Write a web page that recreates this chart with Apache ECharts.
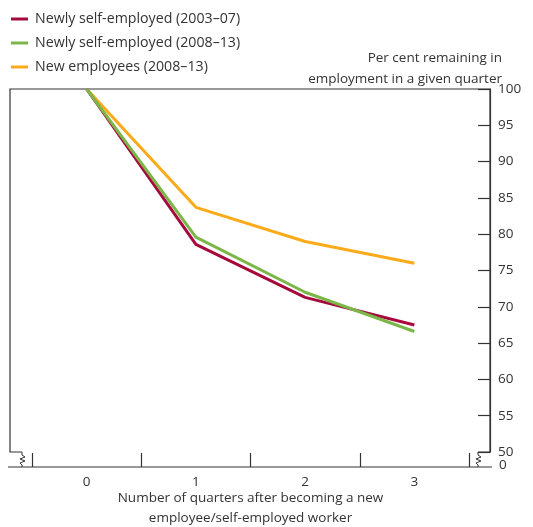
<!DOCTYPE html>
<html><head><meta charset="utf-8">
<script src="https://cdn.jsdelivr.net/npm/echarts@6/dist/echarts.min.js"></script>
<style>html,body{margin:0;padding:0;background:#fff}#c{width:533px;height:527px}</style>
</head><body><div id="c"></div>
<script>
const categories = ['0', '1', '2', '3'];
const selfEmployed0307 = [100, 78.6, 71.3, 67.5];
const selfEmployed0813 = [100, 79.6, 72.0, 66.6];
const newEmployees0813 = [100, 83.7, 79.0, 76.0];
const seriesNames = ['Newly self-employed (2003–07)', 'Newly self-employed (2008–13)', 'New employees (2008–13)'];
const yTicks = [50, 55, 60, 65, 70, 75, 80, 85, 90, 95, 100];

const FONT = 'Open Sans';
const TXT = '#333';
const AX = '#333';
const colors = ['#a6093d', '#7ab648', '#fbaa19'];

const chart = echarts.init(document.getElementById('c'));
const zig = (x) => [[x,452],[x,455],[x+3,457],[x-2,459],[x+3,461],[x-2,463],[x,465],[x,467]];
chart.setOption({
  animation: false,
  textStyle: {fontFamily: FONT},
  color: colors,
  legend: {
    orient: 'vertical', left: 6, top: 7, itemWidth: 17, itemHeight: 3, itemGap: 10,
    icon: 'rect',
    textStyle: {fontFamily: FONT, fontSize: 14.2, color: TXT, lineHeight: 14, padding: [0,0,0,2]},
    data: seriesNames
  },
  grid: {left: 32, right: 64, top: 89, bottom: 75, outerBoundsMode: 'none', containLabel: false},
  xAxis: {
    type: 'category', data: categories, boundaryGap: true, offset: 15,
    axisLine: {show: false},
    axisTick: {show: true, inside: true, length: 14, lineStyle: {color: AX, width: 1.2}},
    axisLabel: {fontFamily: FONT, fontSize: 13.5, color: TXT, margin: 8},
    name: 'Number of quarters after becoming a new\nemployee/self-employed worker',
    nameLocation: 'middle', nameGap: 21, nameMoveOverlap: false,
    nameTextStyle: {fontFamily: FONT, fontSize: 13.5, color: TXT, lineHeight: 20, verticalAlign: 'top'}
  },
  yAxis: {
    type: 'value', position: 'right', offset: 21, min: 50, max: 100, interval: 5,
    splitLine: {show: false},
    axisLine: {show: true, lineStyle: {color: AX, width: 1.2}},
    axisTick: {show: true, inside: true, length: 12, lineStyle: {color: AX, width: 1.2}},
    axisLabel: {fontFamily: FONT, fontSize: 13.5, color: TXT, margin: 8, align: 'left',
      formatter: v => yTicks.includes(v) ? String(v) : ''},
    name: 'Per cent remaining in\nemployment in a given quarter',
    nameLocation: 'end', nameGap: -1, nameMoveOverlap: false,
    nameTextStyle: {fontFamily: FONT, fontSize: 13.5, color: TXT, align: 'right', lineHeight: 21, padding: [0, -12, 0, 0]}
  },
  graphic: [
    {type: 'polyline', shape: {points: [[22,452],[10,452],[10,89],[490,89],[490,452],[478,452]]}, style: {stroke: AX, lineWidth: 1.2, fill: null}},
    {type: 'line', shape: {x1: 8, y1: 467, x2: 492, y2: 467}, style: {stroke: AX, lineWidth: 1.2}},
    {type: 'polyline', shape: {points: zig(22)}, style: {stroke: AX, lineWidth: 1, fill: null}},
    {type: 'polyline', shape: {points: zig(478)}, style: {stroke: AX, lineWidth: 1, fill: null}},
    {type: 'text', left: 499, top: 458, style: {text: '0', fontFamily: FONT, fontSize: 13.5, fill: TXT}}
  ],
  series: [
    {name: seriesNames[0], type: 'line', data: selfEmployed0307, symbol: 'none', lineStyle: {width: 3}, z: 3},
    {name: seriesNames[1], type: 'line', data: selfEmployed0813, symbol: 'none', lineStyle: {width: 3}, z: 4},
    {name: seriesNames[2], type: 'line', data: newEmployees0813, symbol: 'none', lineStyle: {width: 3}, z: 2}
  ]
});
</script></body></html>
